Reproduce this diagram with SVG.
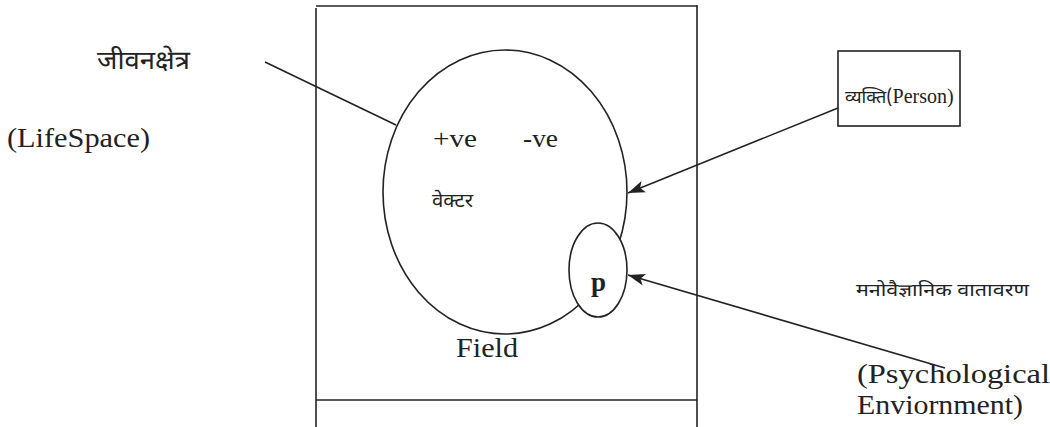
<svg xmlns="http://www.w3.org/2000/svg" width="1050" height="427" viewBox="0 0 1050 427">
<style>
.ln{stroke:#222;stroke-width:1.6;fill:none}
.lat{font-family:"Liberation Serif","Times New Roman",serif;fill:#222}
.dev{font-family:"Noto Sans Devanagari","Noto Serif Devanagari","Lohit Devanagari","FreeSerif","Noto Sans",sans-serif;fill:#222}
</style>
<defs>
<marker id="ah" markerUnits="userSpaceOnUse" markerWidth="20" markerHeight="14" refX="17" refY="7" orient="auto">
<path d="M0,1 L17,7 L0,13 L4,7 Z" fill="#222"/>
</marker>
</defs>
<rect width="1050" height="427" fill="#fff"/>
<g id="frame">
<line class="ln" x1="316" y1="6" x2="697" y2="6"/>
<line class="ln" x1="316" y1="8" x2="316" y2="427"/>
<line class="ln" x1="697" y1="5" x2="697" y2="427"/>
<line class="ln" x1="316" y1="400" x2="697" y2="400"/>
</g>
<g id="lifespace-ellipse">
<ellipse class="ln" cx="505" cy="192" rx="122" ry="142"/>
<text class="lat" x="433" y="147" font-size="26" textLength="44" lengthAdjust="spacingAndGlyphs">+ve</text>
<text class="lat" x="523" y="147" font-size="26" textLength="35" lengthAdjust="spacingAndGlyphs">-ve</text>
<text class="dev" x="432" y="207" font-size="19" textLength="41" lengthAdjust="spacingAndGlyphs">वेक्टर</text>
<text class="lat" x="456" y="357" font-size="28" textLength="62" lengthAdjust="spacingAndGlyphs">Field</text>
</g>
<g id="p-node">
<ellipse cx="598" cy="270" rx="29" ry="47" fill="#fff" stroke="#222" stroke-width="1.6"/>
<text class="lat" x="591" y="291" font-size="27" font-weight="bold">p</text>
</g>
<g id="lifespace-label">
<text class="dev" x="97" y="69" font-size="26" textLength="93" lengthAdjust="spacingAndGlyphs">जीवनक्षेत्र</text>
<text class="lat" x="7" y="147" font-size="28" textLength="143" lengthAdjust="spacingAndGlyphs">(LifeSpace)</text>
</g>
<g id="person">
<rect class="ln" x="838" y="51" width="122" height="75"/>
<text class="dev" x="845" y="103" font-size="18">व्यक्ति(<tspan class="lat" font-size="20">Person)</tspan></text>
</g>
<g id="psych">
<text class="dev" x="856" y="296" font-size="17" textLength="173" lengthAdjust="spacingAndGlyphs">मनोवैज्ञानिक वातावरण</text>
<text class="lat" x="857" y="383" font-size="28" textLength="193" lengthAdjust="spacingAndGlyphs">(Psychological</text>
<text class="lat" x="857" y="414" font-size="28" textLength="166" lengthAdjust="spacingAndGlyphs">Enviornment)</text>
</g>
<g id="connectors">
<line class="ln" x1="265" y1="62" x2="396" y2="125"/>
<line class="ln" x1="838" y1="108" x2="628" y2="193" marker-end="url(#ah)"/>
<line class="ln" x1="945" y1="368" x2="628" y2="275" marker-end="url(#ah)"/>
</g>
</svg>
